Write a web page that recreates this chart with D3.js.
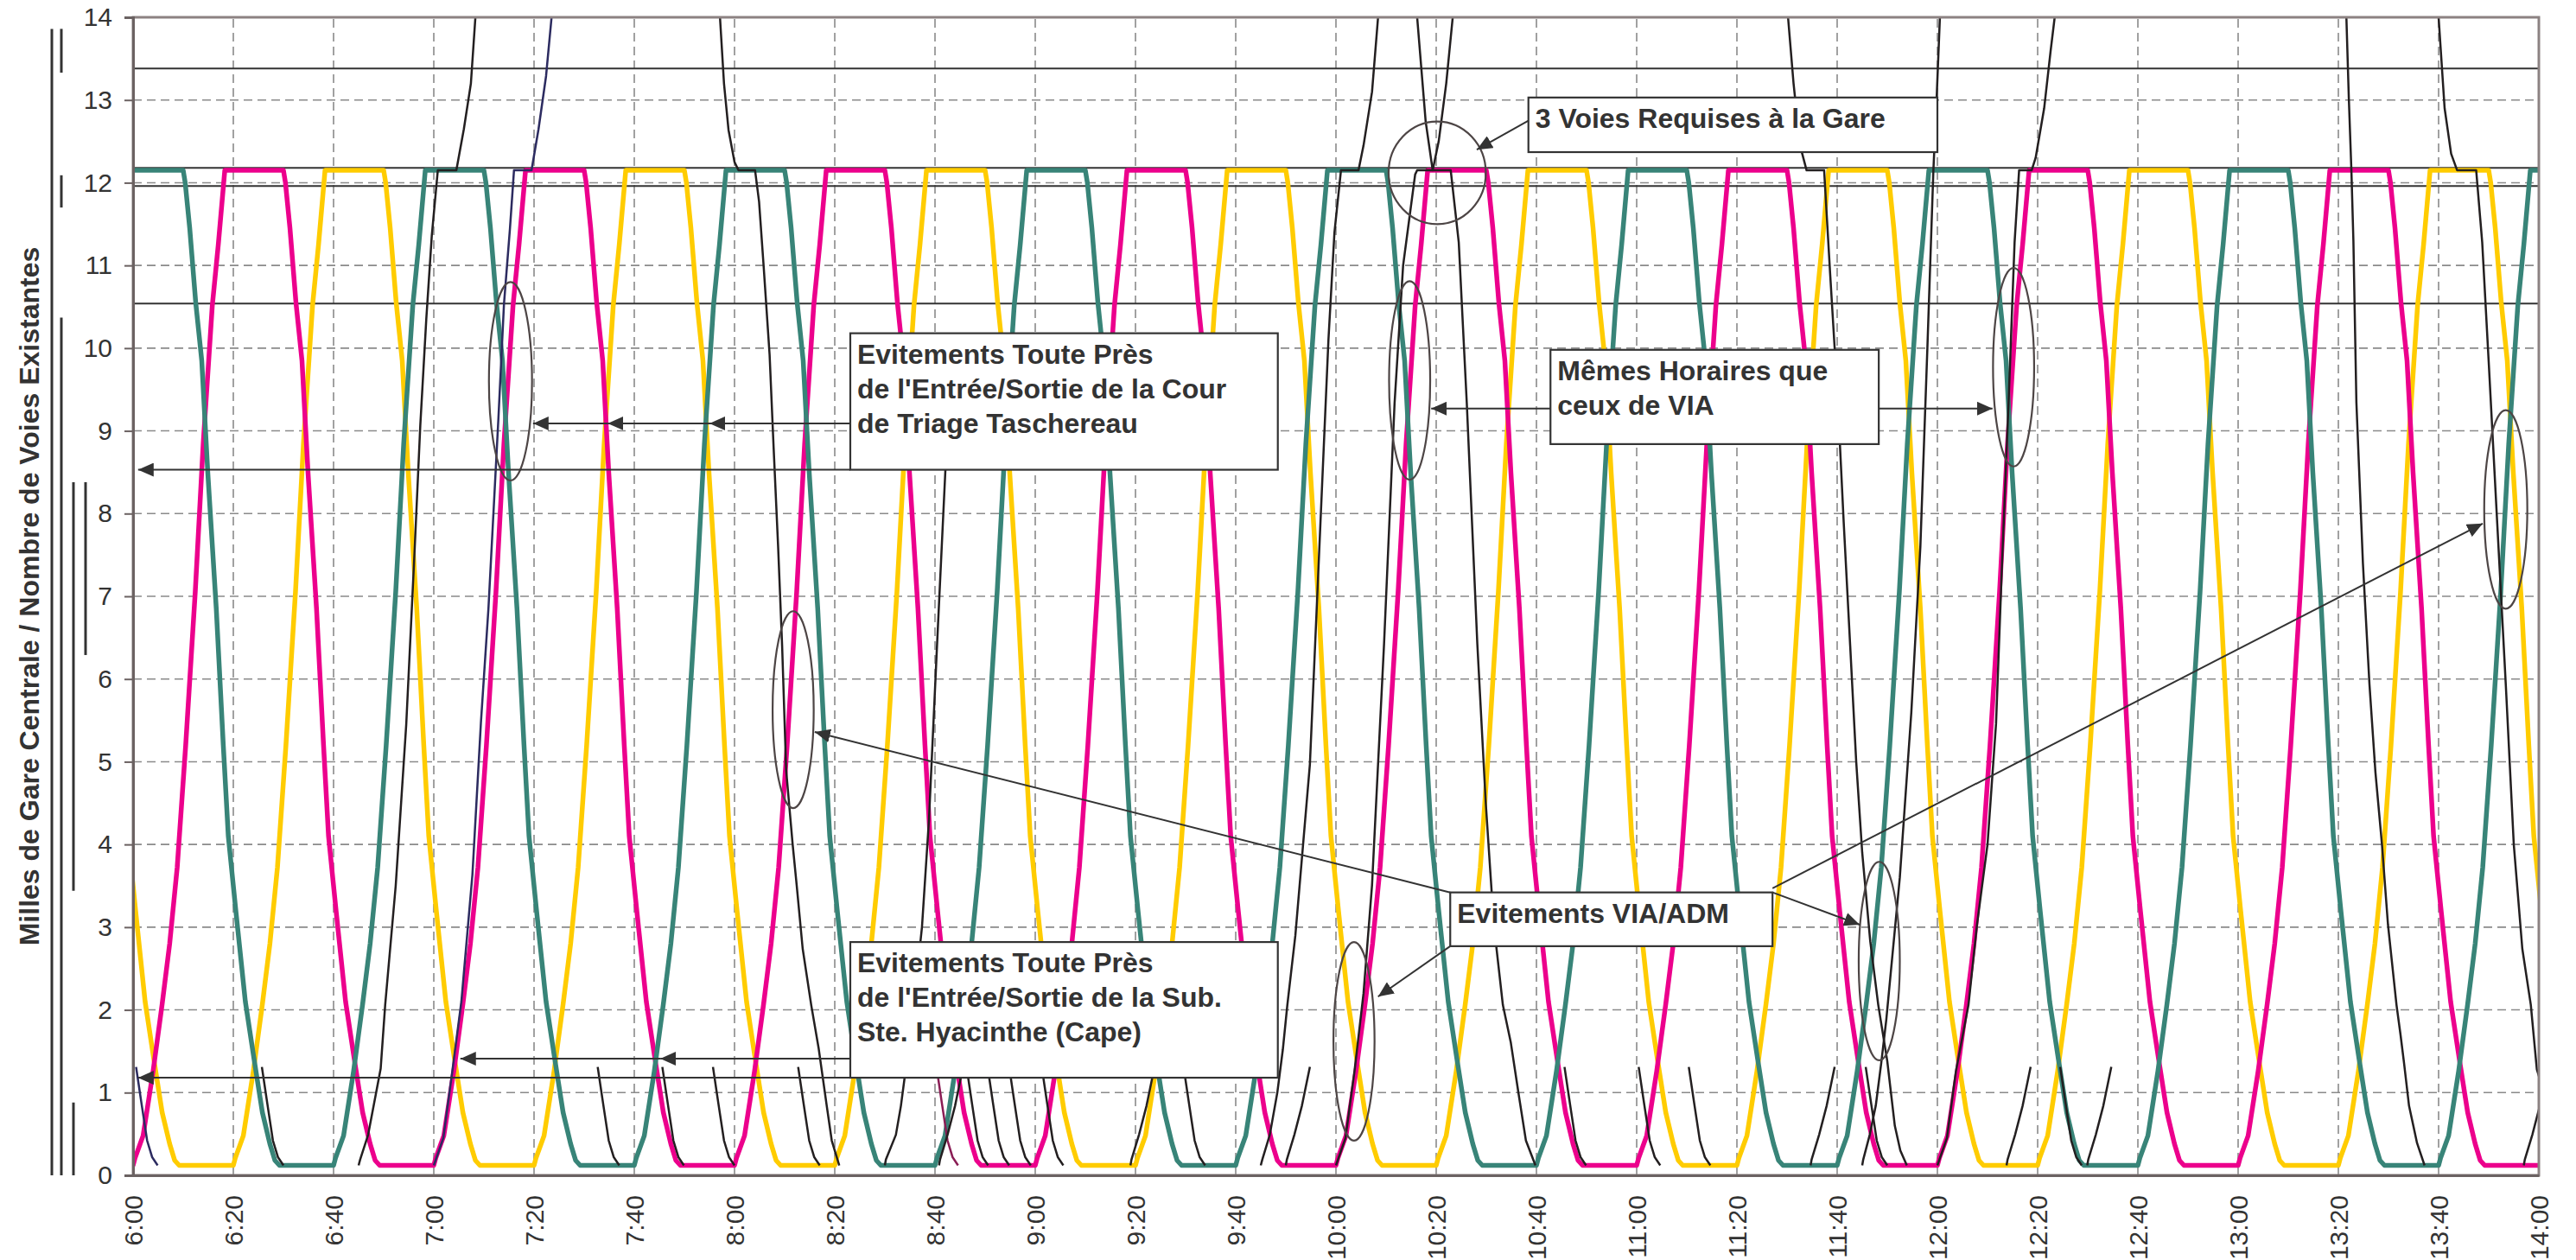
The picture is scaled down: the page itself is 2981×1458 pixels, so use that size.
<!DOCTYPE html>
<html>
<head>
<meta charset="utf-8">
<script src="https://cdn.jsdelivr.net/npm/d3@7"></script>
<style>
  body { margin: 0; background: #fff; }
  text { font-family: "Liberation Sans", Arial, sans-serif; fill: #333; }
</style>
</head>
<body>
<div id="chart"></div>
<script>
// ---- data (time = minutes after 6:00, distance = miles from Gare Centrale) ----
const timeLabels = ["6:00","6:20","6:40","7:00","7:20","7:40","8:00","8:20","8:40","9:00","9:20","9:40",
  "10:00","10:20","10:40","11:00","11:20","11:40","12:00","12:20","12:40","13:00","13:20","13:40","14:00"];
const mileTicks = [0,1,2,3,4,5,6,7,8,9,10,11,12,13,14];

// solid reference lines across the chart
const refLines = [13.38, 12.18, 11.96, 10.54];

// ADM shuttle run, elapsed minutes -> miles
const riseProfile = [[0,0.12],[0.4,0.21],[2.0,0.48],[4.0,1.26],[5.8,2.07],[7.3,2.8],[8.8,3.72],[10.5,5.2],
  [12.4,7.05],[14.0,8.85],[15.8,10.51],[17.0,11.25],[18.3,12.15]];
const fallProfile = [[0,12.15],[0.4,12.0],[1.3,11.45],[2.5,10.55],[3.7,9.85],[4.9,8.5],[6.6,6.85],[8.0,5.2],
  [9.0,4.1],[10.5,3.2],[12.4,2.1],[14.1,1.42],[15.8,0.76],[17.3,0.38],[18.3,0.18],[19.2,0.12]];

// departures of the three shuttles (from bottom = rise, from Gare Centrale = fall)
const tealRise    = [-20, 40, 100, 160, 220, 280, 340, 400, 460];
const tealFall    = [10, 70, 130, 190, 250, 310, 370, 430];
const magentaRise = [0, 60, 120, 180, 240, 300, 360, 420];
const magentaFall = [-30, 30, 90, 150, 210, 270, 330, 390, 450];
const yellowRise  = [20, 80, 140, 200, 260, 320, 380, 440];
const yellowFall  = [-10, 50, 110, 170, 230, 290, 350, 410, 470];

// VIA / other trains, [minute, mile]
const via0645 = [[45,0.12],[45.3,0.19],[46.9,0.49],[48.4,0.97],[49.4,1.29],[50.3,2.06],[52.4,3.5],[54.5,5.45],
  [56.2,7.59],[57.3,9.06],[58.5,10.35],[59.6,11.36],[60.8,12.15],[64.5,12.15],[66,12.65],[67.4,13.2],[68.3,14],[68.5,14.3]];
const via0700 = [[60,0.12],[61.9,0.45],[63.7,1.26],[65.5,2.1],[67.7,3.63],[69.4,5.47],[70.9,6.85],[72.9,9.16],
  [74,10.53],[75.2,11.45],[76,12.15],[79.5,12.15],[80.9,12.65],[82.4,13.29],[83.5,14],[83.8,14.3]];
const via0757 = [[116.8,14.3],[117.1,14],[117.9,13.2],[118.8,12.64],[120,12.25],[120.8,12.15],[124.1,12.15],
  [124.9,11.77],[125.8,11],[127,9.92],[127.8,8.8],[128.7,7.6],[129.5,6.4],[130.3,4.9],[131.6,4.0],[132.4,3.51],
  [133.6,2.74],[135.3,2.06],[136.8,1.53],[138.4,0.84],[139.4,0.42],[140.9,0.12]];
const via0830 = [[150,0.12],[150.2,0.19],[152.2,0.49],[153.2,0.84],[154.2,1.3],[156,2.2],[157.4,3.0],[158.8,4.3],
  [160.4,6.4],[162.1,8.56],[162.8,9.4]];
const via0945 = [[225,0.12],[225.3,0.19],[226.8,0.49],[228.3,1.0],[229.4,1.52],[230.3,2.06],[231.9,2.9],[234.8,4.97],
  [236.9,7.88],[238.5,10.1],[239.7,11.4],[241,12.15],[244.5,12.15],[245.5,12.45],[247.2,13.1],[248.4,14],[248.7,14.3]];
const via1000 = [[240,0.12],[241.9,0.45],[243.7,1.26],[245.5,2.2],[247.2,3.51],[249.6,6.43],[251.7,9.34],
  [253.4,11.0],[255.8,12.1],[256.2,12.15],[259.3,12.15],[260.5,12.5],[262,13.2],[263.3,14],[263.6,14.3]];
const via1016 = [[255.9,14.3],[256.2,14],[257.9,12.74],[259.3,12.15],[262.9,12.15],[264.5,11.28],[266.1,9.34],
  [268.2,6.43],[269.9,4.49],[271.5,3.03],[273.3,2.06],[274.9,1.6],[276.4,1.0],[277.9,0.42],[279.8,0.12]];
const via1130 = [[329.9,14.3],[330.2,14],[331.3,13.2],[332.6,12.45],[333.9,12.15],[337.4,12.15],[338.6,10.9],
  [340.1,9.4],[341.3,7.9],[342.6,6.4],[343.8,5.0],[345,3.9],[346.6,2.83],[348.2,2.06],[350,1.38],[351.5,0.6],
  [352.6,0.3],[353.9,0.12]];
const via1145 = [[345,0.12],[345.2,0.19],[346.5,0.49],[347.7,0.84],[348.8,1.36],[349.8,1.88],[352.5,3.6],
  [354.8,5.6],[356.6,7.6],[358,10],[359.2,12.15],[359.9,13.1],[360.5,14],[360.7,14.3]];
const via1200 = [[360,0.12],[361.9,0.45],[363.7,1.26],[366.2,2.06],[367.9,3.03],[370,4.0],[371.7,5.46],
  [372.9,7.4],[374.2,9.34],[375.4,11.28],[376.3,12.15],[378.8,12.15],[379.6,12.3],[381.3,12.9],[382.6,13.6],
  [383.4,14],[383.6,14.3]];
const via1321 = [[441.5,14.3],[441.6,14],[442.1,13],[442.6,12.15],[443,11.3],[443.6,9.34],[444.9,7.4],
  [446.2,5.94],[447.4,4.87],[448.7,4.0],[449.9,3.03],[451.6,2.06],[452.4,1.7],[453.1,1.36],[454.1,0.84],
  [455.7,0.39],[457.2,0.12]];
const via1340 = [[459.7,14.3],[460,14],[461.2,12.9],[462.5,12.35],[463.7,12.15],[467.5,12.15],[468.7,11.28],
  [470,9.83],[471.7,7.88],[473.4,5.94],[475,4.0],[476.7,2.74],[478.4,2.06],[479.6,1.28],[480.5,1.1]];

// short moves between mile 1.3 (Sub. Ste. Hyacinthe) and the bottom
const branchInProfile  = [[0,1.31],[1.1,0.86],[2.2,0.42],[3.2,0.22],[4.3,0.12]];
const branchOutProfile = [[-0.2,0.12],[0,0.19],[1.5,0.49],[3.0,0.84],[4.6,1.31]];
const branchIn  = [0.6, 25.7, 92.7, 105.6, 115.7, 132.7, 160.3, 166.3, 170.5, 174.8, 181.3, 209.6,
  285.6, 300.4, 310.4, 345.7, 384.5];
const branchOut = [161, 199.2, 230.2, 334.9, 374, 390.1, 477.2];

// existing tracks, left margin: [column, from mile, to mile]
const trackBars = [[0,0,13.86],[1,13.33,13.86],[1,11.7,12.09],[1,0,10.37],[2,3.44,8.38],[2,0,0.88],[3,6.29,8.38]];

// ---- chart setup ----
const width = 2981, height = 1458;
const margin = { top: 20, right: 43, bottom: 98, left: 154 };

const svg = d3.select("#chart").append("svg")
  .attr("width", width).attr("height", height);

const x = d3.scaleLinear().domain([0, 480]).range([margin.left, width - margin.right]);
const y = d3.scaleLinear().domain([0, 14]).range([height - margin.bottom, margin.top]);

const colors = { teal: "#388478", magenta: "#ec008c", yellow: "#ffcc00", via: "#231f20", navy: "#2c2b60", maroon: "#8a1d55" };

svg.append("defs").append("clipPath").attr("id", "plot")
  .append("rect").attr("x", x(0)).attr("y", y(14))
  .attr("width", x(480) - x(0)).attr("height", y(0) - y(14));

const marker = svg.select("defs").append("marker")
  .attr("id", "arrow").attr("viewBox", "0 0 18 16")
  .attr("refX", 18).attr("refY", 8)
  .attr("markerWidth", 18).attr("markerHeight", 16)
  .attr("markerUnits", "userSpaceOnUse").attr("orient", "auto");
marker.append("path").attr("d", "M0,0L18,8L0,16Z").attr("fill", "#333");

// grid
svg.append("g")
  .selectAll("line").data(d3.range(1, 14)).join("line")
  .attr("x1", x(0)).attr("x2", x(480))
  .attr("y1", d => y(d)).attr("y2", d => y(d))
  .attr("stroke", "#8a8a8a").attr("stroke-width", 1.6).attr("stroke-dasharray", "10,6");
svg.append("g")
  .selectAll("line").data(d3.range(20, 480, 20)).join("line")
  .attr("x1", d => x(d)).attr("x2", d => x(d))
  .attr("y1", y(0)).attr("y2", y(14))
  .attr("stroke", "#8a8a8a").attr("stroke-width", 1.6).attr("stroke-dasharray", "10,6");

// reference lines
svg.append("g")
  .selectAll("line").data(refLines).join("line")
  .attr("x1", x(0)).attr("x2", x(480))
  .attr("y1", d => y(d)).attr("y2", d => y(d))
  .attr("stroke", "#333").attr("stroke-width", 2);

const line = d3.line().x(d => x(d[0])).y(d => y(d[1]));
const plot = svg.append("g").attr("clip-path", "url(#plot)");

function shuttle(rises, falls) {
  const legs = rises.map(t => [t, riseProfile]).concat(falls.map(t => [t, fallProfile]))
    .sort((a, b) => a[0] - b[0]);
  const pts = legs.flatMap(([t0, prof]) => prof.map(([dt, m]) => [t0 + dt, m]));
  pts.push([490, pts[pts.length - 1][1]]);
  return pts;
}

[[yellowRise, yellowFall, colors.yellow], [magentaRise, magentaFall, colors.magenta], [tealRise, tealFall, colors.teal]]
  .forEach(([r, f, c]) => {
    plot.append("path").datum(shuttle(r, f))
      .attr("d", line).attr("fill", "none")
      .attr("stroke", c).attr("stroke-width", 5.5).attr("stroke-linejoin", "round");
  });

// short branch moves
const shortRuns = branchIn.map(t => ({ t, prof: branchInProfile }))
  .concat(branchOut.map(t => ({ t, prof: branchOutProfile })));
plot.append("g").selectAll("path").data(shortRuns).join("path")
  .attr("d", d => line(d.prof.map(([dt, m]) => [d.t + dt, m])))
  .attr("fill", "none")
  .attr("stroke", d => d.t === 0.6 ? colors.navy : d.t === 160.3 ? colors.maroon : colors.via)
  .attr("stroke-width", 2.5);

// VIA trains
const viaRuns = [via0645, via0700, via0757, via0830, via0945, via1000, via1016, via1130, via1145, via1200, via1321, via1340];
plot.append("g").selectAll("path").data(viaRuns).join("path")
  .attr("d", line).attr("fill", "none")
  .attr("stroke", d => d === via0700 ? colors.navy : colors.via)
  .attr("stroke-width", 2.5).attr("stroke-linejoin", "round");

// ---- annotations ----
const ellipses = [[75.3,9.6,4.3,1.2],[131.7,5.63,4.1,1.19],[260.2,12.12,9.7,0.62],[254.7,9.61,4.1,1.2],
  [243.6,1.62,4.1,1.2],[375.2,9.77,4.1,1.2],[348.4,2.59,4.1,1.2],[473.4,8.05,4.3,1.2]];
svg.append("g").selectAll("ellipse").data(ellipses).join("ellipse")
  .attr("cx", d => x(d[0])).attr("cy", d => y(d[1]))
  .attr("rx", d => x(d[2]) - x(0)).attr("ry", d => y(0) - y(d[3]))
  .attr("fill", "none").attr("stroke", "#4d4545").attr("stroke-width", 2.2);

// arrows: [from minute, from mile, to minute, to mile, arrowhead?]
const arrows = [
  [143.1,9.09,115,9.09,1],[115,9.09,94.7,9.09,1],[94.7,9.09,79.8,9.09,1],
  [143.1,8.53,1,8.53,1],
  [143.1,1.41,105.2,1.41,1],[105.2,1.41,65.3,1.41,1],
  [143.1,1.18,1,1.18,1],
  [282.8,9.27,259,9.27,1],[348.3,9.27,371,9.27,1],
  [278.4,12.75,268.1,12.4,1],
  [262.8,3.42,136,5.36,1],[262.8,2.77,248.4,2.16,1],[327.1,3.42,344.5,3.03,1],[327.1,3.47,468.8,7.88,1]
];
svg.append("g").selectAll("line").data(arrows).join("line")
  .attr("x1", d => x(d[0])).attr("y1", d => y(d[1]))
  .attr("x2", d => x(d[2])).attr("y2", d => y(d[3]))
  .attr("stroke", "#333").attr("stroke-width", 2)
  .attr("marker-end", "url(#arrow)");

const boxes = [
  { t0: 143.1, t1: 228.4, m0: 10.18, m1: 8.53, lines: ["Evitements Toute Près", "de l'Entrée/Sortie de la Cour", "de Triage Taschereau"] },
  { t0: 143.1, t1: 228.4, m0: 2.82, m1: 1.18, lines: ["Evitements Toute Près", "de l'Entrée/Sortie de la Sub.", "Ste. Hyacinthe (Cape)"] },
  { t0: 282.8, t1: 348.3, m0: 9.98, m1: 8.84, lines: ["Mêmes Horaires que", "ceux de VIA"] },
  { t0: 278.4, t1: 360.0, m0: 13.03, m1: 12.37, lines: ["3 Voies Requises à la Gare"] },
  { t0: 262.8, t1: 327.1, m0: 3.42, m1: 2.77, lines: ["Evitements VIA/ADM"] }
];
const boxG = svg.append("g").selectAll("g").data(boxes).join("g");
boxG.append("rect")
  .attr("x", d => x(d.t0)).attr("y", d => y(d.m0))
  .attr("width", d => x(d.t1) - x(d.t0)).attr("height", d => y(d.m1) - y(d.m0))
  .attr("fill", "#fff").attr("stroke", "#333").attr("stroke-width", 2.2);
boxG.append("text")
  .attr("font-size", 32).attr("font-weight", "bold")
  .selectAll("tspan").data(d => d.lines.map((s, i) => ({ s, i, d }))).join("tspan")
  .attr("x", e => x(e.d.t0) + 8)
  .attr("y", e => y(e.d.m0) + 35 + e.i * 40)
  .text(e => e.s);

// ---- axes ----
svg.append("rect")
  .attr("x", x(0)).attr("y", y(14))
  .attr("width", x(480) - x(0)).attr("height", y(0) - y(14))
  .attr("fill", "none").attr("stroke", "#8c8282").attr("stroke-width", 3);

svg.append("g")
  .attr("transform", `translate(${x(0)},0)`)
  .call(d3.axisLeft(y).tickValues(mileTicks).tickSize(10).tickPadding(14).tickFormat(d3.format("d")))
  .call(g => g.select(".domain").attr("stroke", "#6b6262").attr("stroke-width", 3))
  .call(g => g.selectAll(".tick line").attr("stroke", "#6b6262").attr("stroke-width", 2))
  .call(g => g.selectAll(".tick text").attr("font-size", 30).attr("fill", "#333")
    .attr("font-family", "Liberation Sans, Arial, sans-serif"));

svg.append("g")
  .attr("transform", `translate(0,${y(0)})`)
  .call(d3.axisBottom(x).tickValues(d3.range(0, 481, 20)).tickSize(0)
    .tickFormat((d, i) => timeLabels[i]))
  .call(g => g.select(".domain").attr("stroke", "#6b6262").attr("stroke-width", 3))
  .call(g => g.selectAll(".tick text")
    .attr("font-size", 30).attr("fill", "#333")
    .attr("font-family", "Liberation Sans, Arial, sans-serif")
    .attr("text-anchor", "end")
    .attr("transform", "rotate(-90)")
    .attr("x", -23).attr("y", 0).attr("dy", "0.35em"));

// y title
svg.append("text")
  .attr("transform", `translate(45,${(y(0) + y(14)) / 2}) rotate(-90)`)
  .attr("text-anchor", "middle")
  .attr("font-size", 32).attr("font-weight", "bold")
  .text("Milles de Gare Centrale / Nombre de Voies Existantes");

// track count bars in the left margin
const trackX = [60, 71, 85, 99];
svg.append("g").selectAll("line").data(trackBars).join("line")
  .attr("x1", d => trackX[d[0]]).attr("x2", d => trackX[d[0]])
  .attr("y1", d => y(d[1])).attr("y2", d => y(d[2]))
  .attr("stroke", "#333").attr("stroke-width", 3);
</script>
</body>
</html>
